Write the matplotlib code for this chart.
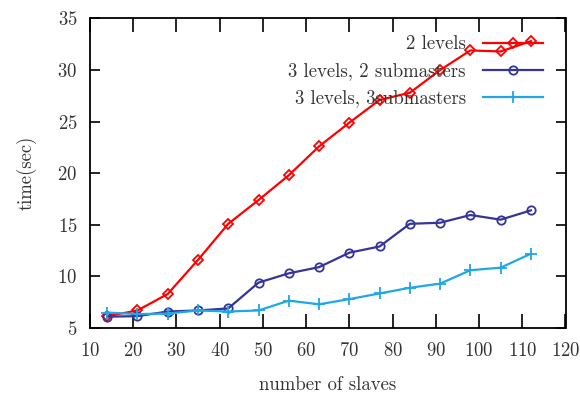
import matplotlib
matplotlib.use("Agg")
import matplotlib.pyplot as plt

slaves = [14, 21, 28, 35, 42, 49, 56, 63, 70, 77, 84, 91, 98, 105, 112]
two_levels = [6.15, 6.7, 8.3, 11.6, 15.1, 17.4, 19.8, 22.6, 24.9, 27.1, 27.8, 30.0, 31.9, 31.8, 32.8]
three_2sub = [6.1, 6.15, 6.6, 6.7, 6.9, 9.4, 10.3, 10.9, 12.3, 12.9, 15.1, 15.2, 15.95, 15.5, 16.4]
three_3sub = [6.5, 6.35, 6.4, 6.7, 6.6, 6.7, 7.65, 7.3, 7.8, 8.35, 8.9, 9.3, 10.6, 10.85, 12.2]

xticks = [10, 20, 30, 40, 50, 60, 70, 80, 90, 100, 110, 120]
yticks = [5, 10, 15, 20, 25, 30, 35]

plt.rcParams['font.family'] = 'serif'
plt.rcParams['font.serif'] = ['cmr10', 'DejaVu Serif']
plt.rcParams['axes.formatter.use_mathtext'] = True

FS = 13.5

fig = plt.figure(figsize=(5.8, 4.01), dpi=100)
ax = fig.add_axes([0.155, 0.182, 0.82, 0.772])

ax.plot(slaves, two_levels, color='#ff0000', lw=1.6, marker='D', ms=5.5,
        mfc='none', mec='#ff0000', mew=1.3, label='2 levels')
ax.plot(slaves, three_2sub, color='#34349a', lw=1.6, marker='o', ms=6,
        mfc='none', mec='#34349a', mew=1.3, label='3 levels, 2 submasters')
ax.plot(slaves, three_3sub, color='#1ea8e8', lw=1.6, marker='+', ms=9,
        mew=1.3, label='3 levels, 3submasters')

ax.set_xlim(10, 120)
ax.set_ylim(5, 35)
ax.set_xticks(xticks)
ax.set_yticks(yticks)
ax.tick_params(axis='both', direction='in', top=True, right=True,
               labelsize=FS, width=1.2, colors='black', labelcolor='#333333')
ax.tick_params(axis='x', length=10, pad=10)
ax.tick_params(axis='y', length=7, pad=9)
for s in ax.spines.values():
    s.set_linewidth(1.3)

ax.set_xlabel('number of slaves', fontsize=FS, color='#333333', labelpad=12)
ax.set_ylabel('time(sec)', fontsize=FS, color='#333333', labelpad=15)

leg = ax.legend(loc='upper right', frameon=False, markerfirst=False,
                fontsize=FS, handlelength=3.2, labelspacing=0.48,
                borderaxespad=0.0, handletextpad=0.9, borderpad=0.0,
                bbox_to_anchor=(0.952, 0.945))
for t in leg.get_texts():
    t.set_color('#333333')

fig.savefig('out.png', dpi=100)
